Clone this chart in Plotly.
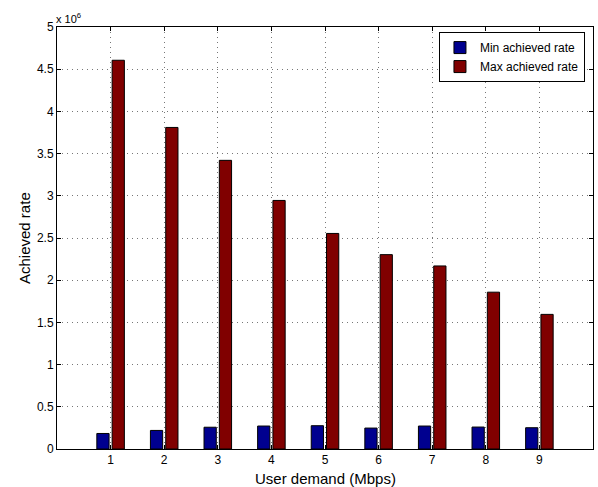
import plotly.graph_objects as go

demand = [1, 2, 3, 4, 5, 6, 7, 8, 9]
min_rate = [0.184e6, 0.220e6, 0.258e6, 0.272e6, 0.276e6, 0.248e6, 0.272e6, 0.260e6, 0.252e6]
max_rate = [4.606e6, 3.810e6, 3.420e6, 2.945e6, 2.554e6, 2.303e6, 2.169e6, 1.858e6, 1.595e6]
y_tickvals = [0, 0.5e6, 1e6, 1.5e6, 2e6, 2.5e6, 3e6, 3.5e6, 4e6, 4.5e6, 5e6]
y_ticktext = ["0", "0.5", "1", "1.5", "2", "2.5", "3", "3.5", "4", "4.5", "5"]

FONT = "Liberation Sans, Arial, sans-serif"

fig = go.Figure()
fig.add_trace(go.Bar(x=demand, y=min_rate, name="Min achieved rate",
                     marker=dict(color="#00008F", line=dict(color="black", width=1))))
fig.add_trace(go.Bar(x=demand, y=max_rate, name="Max achieved rate",
                     marker=dict(color="#800000", line=dict(color="black", width=1))))

fig.update_layout(
    width=598, height=487,
    margin=dict(l=57, r=5, t=27, b=38, autoexpand=False),
    paper_bgcolor="white", plot_bgcolor="white",
    barmode="group", bargap=0.429, bargroupgap=0.2,
    font=dict(family=FONT, size=12, color="black"),
    legend=dict(x=0.985, y=0.988, xanchor="right", yanchor="top",
                bgcolor="white", bordercolor="black", borderwidth=1,
                font=dict(size=12, family=FONT), tracegroupgap=0,
                itemwidth=30),
    showlegend=True,
)
grid = dict(showgrid=True, gridcolor="#777777", griddash="1px,4px", gridwidth=1)
fig.update_xaxes(range=[0, 10], tickvals=demand, ticktext=[str(d) for d in demand],
                 ticks="inside", ticklen=4, tickcolor="black",
                 showline=True, linecolor="black", linewidth=1, mirror="allticks",
                 zeroline=False, automargin=False,
                 tickfont=dict(size=12, family=FONT), **grid)
fig.update_yaxes(range=[0, 5e6], tickvals=y_tickvals, ticktext=y_ticktext,
                 ticks="inside", ticklen=4, tickcolor="black",
                 showline=True, linecolor="black", linewidth=1, mirror="allticks",
                 zeroline=False, automargin=False,
                 tickfont=dict(size=12, family=FONT), **grid)
fig.add_annotation(text="User demand (Mbps)", xref="paper", yref="paper", x=0.5, y=0,
                   xanchor="center", yanchor="middle", yshift=-29, showarrow=False,
                   font=dict(size=15, family=FONT))
fig.add_annotation(text="Achieved rate", xref="paper", yref="paper", x=0, y=0.5,
                   xanchor="center", yanchor="middle", xshift=-33, textangle=-90,
                   showarrow=False, font=dict(size=15, family=FONT))
fig.add_annotation(text="x 10<sup>6</sup>", xref="paper", yref="paper", x=0, y=1,
                   xanchor="left", yanchor="bottom", showarrow=False,
                   font=dict(size=11, family=FONT), xshift=-3, yshift=0)

fig.write_html("out.html", config={"displayModeBar": False},
               post_script="document.body.style.margin='0';")
